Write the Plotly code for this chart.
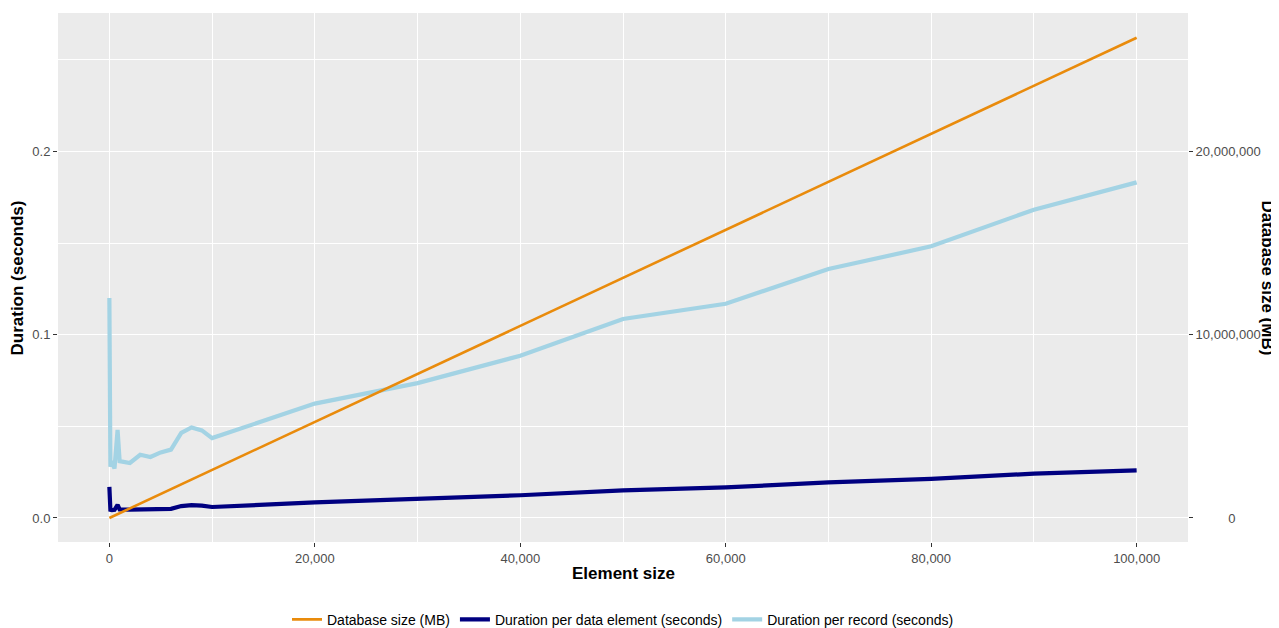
import plotly.graph_objects as go

# ---- data ----
element_size = [1, 100, 250, 500, 800, 1000, 2000, 3000, 4000, 5000, 6000, 7000,
                8000, 9000, 10000, 20000, 30000, 40000, 50000, 60000, 70000,
                80000, 90000, 100000]

duration_per_record = [0.120, 0.028, 0.031, 0.027, 0.048, 0.031, 0.030, 0.0345,
                       0.0333, 0.0358, 0.0373, 0.0464, 0.0494, 0.0478, 0.0436,
                       0.0624, 0.0736, 0.0885, 0.1086, 0.1169, 0.1358, 0.1482,
                       0.1682, 0.1831]

duration_per_element = [0.0170, 0.0045, 0.0043, 0.0045, 0.0072, 0.0047, 0.0046,
                        0.0047, 0.0047, 0.0049, 0.0050, 0.0065, 0.0070, 0.0067,
                        0.0060, 0.0085, 0.0106, 0.0124, 0.0151, 0.0167, 0.0194,
                        0.0213, 0.0242, 0.0260]

db_element_size = [0, 10000, 20000, 30000, 40000, 50000, 60000, 70000, 80000,
                   90000, 100000]
db_size_mb = [0, 2620000, 5240000, 7860000, 10480000, 13100000, 15720000,
              18340000, 20960000, 23580000, 26200000]

x_ticks = [0, 20000, 40000, 60000, 80000, 100000]
y_ticks = [0.0, 0.1, 0.2]
y2_ticks = [0, 10000000, 20000000]
# right-axis labels are centred in the reference; pad the short "0" label
y2_ticktext = ["\u2007\u2007\u2007\u2007\u20080", "10,000,000", "20,000,000"]

# ---- styles ----
ORANGE = "#E98B0C"
NAVY = "#000080"
LIGHTBLUE = "#A3D3E4"
PANEL = "#EBEBEB"
TICKTXT = "#4D4D4D"
FONT = "Liberation Sans, Arial, Helvetica, sans-serif"

fig = go.Figure()

fig.add_trace(go.Scatter(
    x=element_size, y=duration_per_record, mode="lines",
    name="Duration per record (seconds)",
    line=dict(color=LIGHTBLUE, width=4.2), legendrank=3))
fig.add_trace(go.Scatter(
    x=element_size, y=duration_per_element, mode="lines",
    name="Duration per data element (seconds)",
    line=dict(color=NAVY, width=4.2), legendrank=2))
fig.add_trace(go.Scatter(
    x=db_element_size, y=db_size_mb, mode="lines",
    name="Database size (MB)", yaxis="y2",
    line=dict(color=ORANGE, width=2.6), legendrank=1))

y_lo, y_hi = -0.0131, 0.2755
scale = 1e8

# The page body adds an 8px offset, so the figure is 8px smaller in each direction.
fig.update_layout(
    width=1271, height=620,
    margin=dict(l=50, r=91, t=5, b=86, autoexpand=False),
    paper_bgcolor="white", plot_bgcolor=PANEL,
    font=dict(family=FONT, size=13, color=TICKTXT),
    xaxis=dict(
        range=[-5000, 105000], tickvals=x_ticks, tickformat=",",
        ticks="outside", ticklen=4, tickcolor="#333333", tickwidth=1.1,
        showgrid=True, gridcolor="white", gridwidth=1.3,
        minor=dict(dtick=10000, tick0=0, showgrid=True, gridcolor="white", gridwidth=0.6),
        zeroline=False, showline=False, automargin=False,
        tickfont=dict(size=13, color=TICKTXT),
    ),
    yaxis=dict(
        range=[y_lo, y_hi], tickvals=y_ticks, tickformat=".1f",
        ticks="outside", ticklen=4, tickcolor="#333333", tickwidth=1.1,
        showgrid=True, gridcolor="white", gridwidth=1.3,
        minor=dict(dtick=0.05, tick0=0, showgrid=True, gridcolor="white", gridwidth=0.6),
        zeroline=False, showline=False, automargin=False,
        tickfont=dict(size=13, color=TICKTXT),
    ),
    yaxis2=dict(
        overlaying="y", side="right",
        range=[y_lo * scale, y_hi * scale], tickvals=y2_ticks, ticktext=y2_ticktext,
        ticks="outside", ticklen=4, tickcolor="#333333", tickwidth=1.1,
        showgrid=False, zeroline=False, showline=False, automargin=False,
        tickfont=dict(size=13, color=TICKTXT),
    ),
    legend=dict(
        orientation="h", x=0.5, xanchor="center", y=-0.147, yanchor="middle",
        font=dict(size=14, color="black", family=FONT),
        traceorder="normal", itemwidth=30, bgcolor="rgba(0,0,0,0)",
    ),
    annotations=[
        dict(text="<b>Element size</b>", xref="paper", yref="paper",
             x=0.5, y=-0.059, xanchor="center", yanchor="middle",
             showarrow=False, font=dict(size=17, color="black", family=FONT)),
        dict(text="<b>Duration (seconds)</b>", xref="paper", yref="paper",
             x=-0.0354, y=0.5, xanchor="center", yanchor="middle", textangle=-90,
             showarrow=False, font=dict(size=17, color="black", family=FONT)),
        dict(text="<b>Database size (MB)</b>", xref="paper", yref="paper",
             x=1.0700, y=0.5, xanchor="center", yanchor="middle", textangle=90,
             showarrow=False, font=dict(size=17, color="black", family=FONT)),
    ],
)

fig.write_html("out.html")
